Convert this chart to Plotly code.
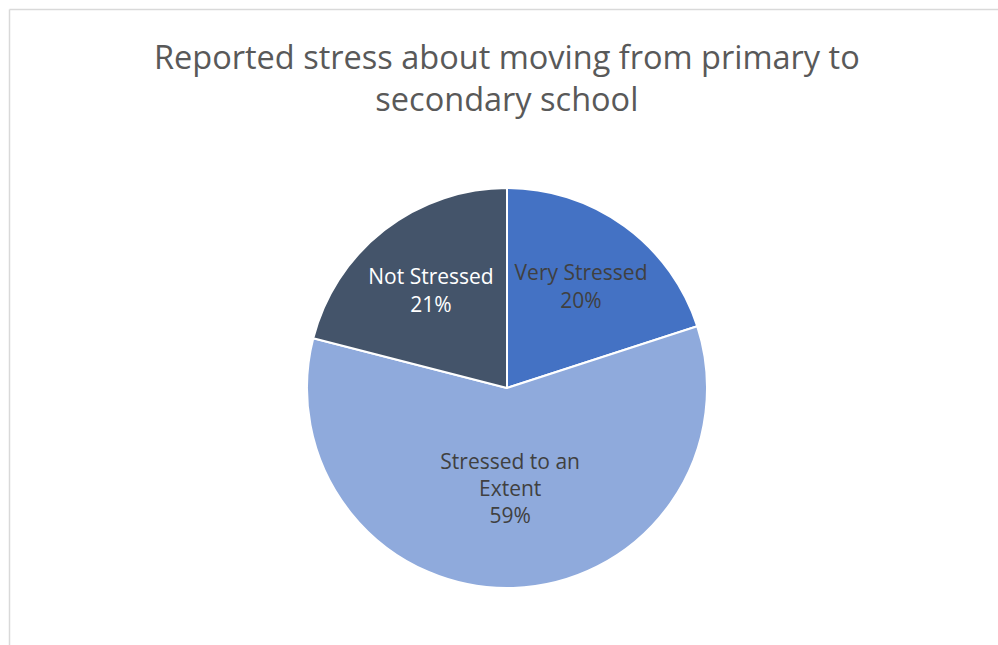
import plotly.graph_objects as go

# Survey responses
categories = ["Very Stressed", "Stressed to an Extent", "Not Stressed"]
display_labels = ["Very Stressed", "Stressed to an<br>Extent", "Not Stressed"]
shares = [20, 59, 21]
slice_colors = ["#4472C4", "#8FAADC", "#44546A"]
text_colors = ["#404040", "#404040", "#FFFFFF"]

title_text = "Reported stress about moving from primary to<br>secondary school"

W, H = 998, 645
cx, cy, r = 507, 388, 200

fig = go.Figure(
    go.Pie(
        labels=categories,
        values=shares,
        text=display_labels,
        texttemplate="%{text}<br>%{percent:.0%}",
        textposition="inside",
        insidetextorientation="horizontal",
        insidetextfont=dict(family="Open Sans", size=21, color=text_colors),
        marker=dict(colors=slice_colors, line=dict(color="#FFFFFF", width=2)),
        sort=False,
        direction="clockwise",
        rotation=0,
        showlegend=False,
        hoverinfo="label+percent",
        domain=dict(x=[(cx - r) / W, (cx + r) / W],
                    y=[1 - (cy + r) / H, 1 - (cy - r) / H]),
    )
)

fig.add_annotation(
    text=title_text, xref="paper", yref="paper",
    x=cx / W, y=1 - 77 / H, xanchor="center", yanchor="middle",
    showarrow=False, align="center",
    font=dict(family="Open Sans", size=32.5, color="#595959"),
)

# chart area outline (left and top edges)
border = dict(color="#D9D9D9", width=1.5)
fig.add_shape(type="line", xref="paper", yref="paper",
              x0=9.5 / W, x1=9.5 / W, y0=0, y1=1 - 9.5 / H, line=border)
fig.add_shape(type="line", xref="paper", yref="paper",
              x0=9.5 / W, x1=1, y0=1 - 9.5 / H, y1=1 - 9.5 / H, line=border)

fig.update_layout(
    width=W, height=H,
    margin=dict(l=0, r=0, t=0, b=0),
    paper_bgcolor="#FFFFFF",
    plot_bgcolor="#FFFFFF",
)

fig.write_html("out.html")
